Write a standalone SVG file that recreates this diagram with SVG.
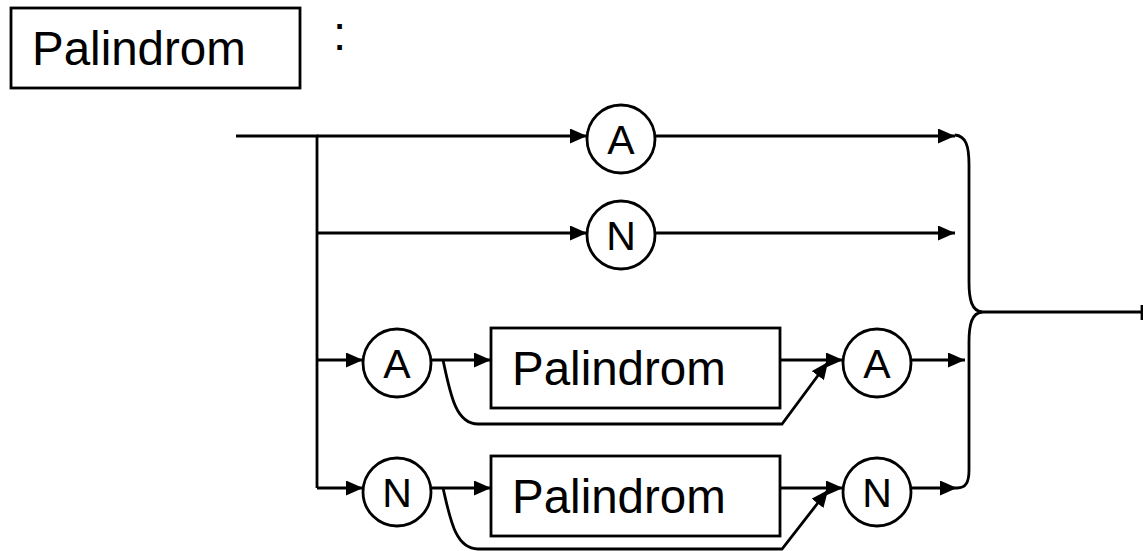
<svg xmlns="http://www.w3.org/2000/svg" width="1143" height="551" viewBox="0 0 1143 551">
<style>
.ln{fill:none;stroke:#000;stroke-width:2.8}
.arr{fill:none;stroke:#000;stroke-width:2.8;marker-end:url(#ah)}
.box{fill:#fff;stroke:#000;stroke-width:2.8}
.t{font-family:"Liberation Sans",Arial,sans-serif;font-size:47.5px;fill:#000}
.c{font-family:"Liberation Sans",Arial,sans-serif;font-size:41px;fill:#000;text-anchor:middle}
</style>
<defs>
<marker id="ah" markerWidth="17" markerHeight="15" refX="17" refY="7.5" orient="auto" markerUnits="userSpaceOnUse">
<path d="M0,0 L17,7.5 L0,15 Z" fill="#000"/>
</marker>
</defs>
<rect x="0" y="0" width="1143" height="551" fill="#fff"/>
<g id="title">
<rect class="box" x="11" y="8" width="289" height="80"/>
<text class="t" x="32" y="65">Palindrom</text>
<text class="t" x="333" y="50">:</text>
</g>
<g id="connectors">
<path class="ln" d="M236 136 H317 V488"/>
<path class="arr" d="M317 136 H587"/>
<path class="arr" d="M655 136 H955"/>
<path class="arr" d="M317 233 H587"/>
<path class="arr" d="M655 233 H955"/>
<path class="arr" d="M317 360 H363"/>
<path class="arr" d="M432 360 H491"/>
<path class="arr" d="M780 360 H843"/>
<path class="arr" d="M911 360 H965"/>
<path class="arr" d="M443 360 C450 392 455 424 478 424 H782 L828 362"/>
<path class="arr" d="M317 488 H363"/>
<path class="arr" d="M432 488 H491"/>
<path class="arr" d="M780 488 H843"/>
<path class="arr" d="M911 488 H957"/>
<path class="arr" d="M443 488 C450 518 455 549 478 549 H782 L828 490"/>
<path class="ln" d="M955 135 C966 136 969 146 969 165 V282 C969 300 972 311 982 312 C972 313 969 324 969 342 V470 C969 482 966 488 957 488"/>
<path class="ln" d="M980 312 H1142"/>
<path class="ln" d="M1142 305 V320"/>
</g>
<g id="nodeA1"><circle class="box" cx="621" cy="139" r="34"/><text class="c" x="621" y="154">A</text></g>
<g id="nodeN1"><circle class="box" cx="621" cy="235" r="34"/><text class="c" x="621" y="250">N</text></g>
<g id="nodeA2"><circle class="box" cx="397" cy="363" r="34"/><text class="c" x="397" y="378">A</text></g>
<g id="nodeP1"><rect class="box" x="491" y="328" width="289" height="80"/><text class="t" x="512" y="385">Palindrom</text></g>
<g id="nodeA3"><circle class="box" cx="877" cy="363" r="34"/><text class="c" x="877" y="378">A</text></g>
<g id="nodeN2"><circle class="box" cx="397" cy="492" r="34"/><text class="c" x="397" y="507">N</text></g>
<g id="nodeP2"><rect class="box" x="491" y="456" width="289" height="80"/><text class="t" x="512" y="513">Palindrom</text></g>
<g id="nodeN3"><circle class="box" cx="877" cy="492" r="34"/><text class="c" x="877" y="507">N</text></g>
</svg>
